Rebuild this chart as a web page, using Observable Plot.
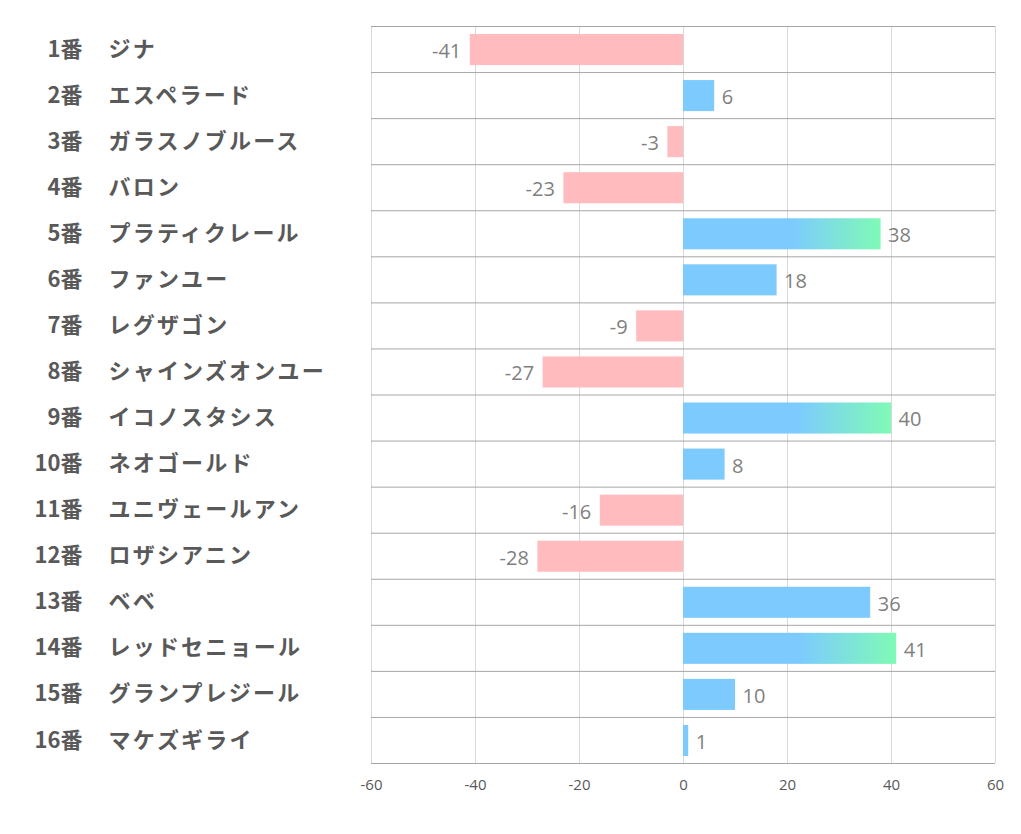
<!DOCTYPE html>
<html>
<head>
<meta charset="utf-8">
<script src="https://cdn.jsdelivr.net/npm/d3@7"></script>
<script src="https://cdn.jsdelivr.net/npm/@observablehq/plot@0.6"></script>
<style>
  html, body { margin: 0; padding: 0; background: #fff; }
  #chart svg { display: block; }
</style>
</head>
<body>
<div id="chart"></div>
<script>
// ---- data ----
const numbers = [1, 2, 3, 4, 5, 6, 7, 8, 9, 10, 11, 12, 13, 14, 15, 16];
const names = ["ジナ", "エスペラード", "ガラスノブルース", "バロン", "プラティクレール", "ファンユー", "レグザゴン", "シャインズオンユー", "イコノスタシス", "ネオゴールド", "ユニヴェールアン", "ロザシアニン", "ベベ", "レッドセニョール", "グランプレジール", "マケズギライ"];
const values = [-41, 6, -3, -23, 38, 18, -9, -27, 40, 8, -16, -28, 36, 41, 10, 1];
const highlighted = [5, 9, 14];
const xTicks = [-60, -40, -20, 0, 20, 40, 60];

const rows = numbers.map((n, i) => ({n, label: n + "番", name: names[i], v: values[i], hi: highlighted.includes(n)}));
const separators = d3.range(0, numbers.length + 1).map(k => k + 0.5);

const font = "'Noto Sans CJK JP', 'Noto Sans', sans-serif";
const numFont = "'Open Sans', 'Noto Sans', sans-serif";

const barOpts = {x1: () => 0, x2: "v", y1: d => d.n - 0.5, y2: d => d.n + 0.5, insetTop: 8, insetBottom: 7};

const chart = Plot.plot({
  width: 1021,
  height: 834,
  marginLeft: 371,
  marginRight: 26,
  marginTop: 26,
  marginBottom: 71,
  style: {fontFamily: font, background: "#fff"},
  x: {domain: [-60, 60], ticks: xTicks, label: null},
  y: {domain: [0.5, numbers.length + 0.5], reverse: true, axis: null},
  marks: [
    Plot.ruleX(xTicks, {stroke: "#d9d9d9", strokeWidth: 1}),
    Plot.ruleY(separators, {stroke: "#a6a6a6", strokeWidth: 1}),
    Plot.rect(rows.filter(d => d.v < 0), {...barOpts, fill: "#ffbbbe"}),
    Plot.rect(rows.filter(d => d.v >= 0 && !d.hi), {...barOpts, fill: "#7dcbfe"}),
    Plot.rect(rows.filter(d => d.hi), {...barOpts, fill: "url(#hiGrad)"}),
    Plot.text(rows.filter(d => d.v < 0), {x: "v", y: "n", text: d => String(d.v), textAnchor: "end", dx: -9, dy: 2, fill: "#7f7f7f", fontSize: 20, fontFamily: numFont}),
    Plot.text(rows.filter(d => d.v >= 0), {x: "v", y: "n", text: d => String(d.v), textAnchor: "start", dx: 7, dy: 2, fill: "#7f7f7f", fontSize: 20, fontFamily: numFont}),
    Plot.text(rows, {y: "n", text: "label", frameAnchor: "left", textAnchor: "end", dx: -289, dy: 0, fill: "#595959", fontSize: 22, fontWeight: "bold"}),
    Plot.text(rows, {y: "n", text: "name", frameAnchor: "left", textAnchor: "start", dx: -263, dy: 0, fill: "#595959", fontSize: 22, fontWeight: "bold"}),
    Plot.axisX(xTicks, {tickSize: 0, tickPadding: 16, fontSize: 15, fill: "#595959", fontFamily: numFont, tickFormat: d => String(d)})
  ]
});

// letter spacing for the horse names
d3.select(chart).selectAll("text")
  .filter(function() { return names.includes(this.textContent); })
  .attr("letter-spacing", "2.2px");

const defs = d3.select(chart).insert("defs", ":first-child");
const g = defs.append("linearGradient").attr("id", "hiGrad")
  .attr("x1", "0").attr("x2", "1").attr("y1", "0").attr("y2", "0");
g.append("stop").attr("offset", "0.55").attr("stop-color", "#7dcbfe");
g.append("stop").attr("offset", "1").attr("stop-color", "#7ffab6");

document.getElementById("chart").appendChild(chart);
</script>
</body>
</html>
